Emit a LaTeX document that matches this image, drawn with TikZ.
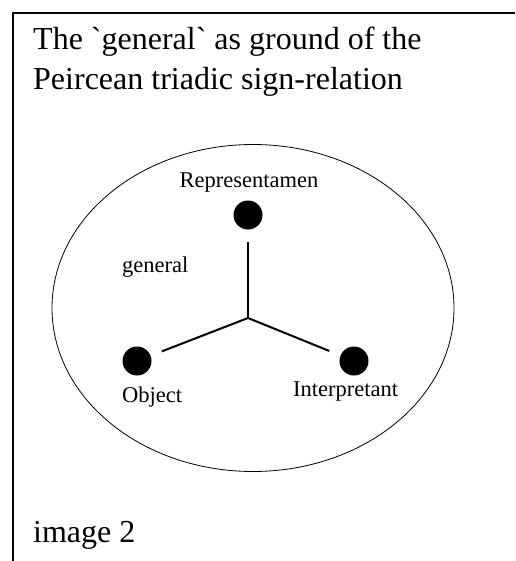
\documentclass[tikz,border=0pt]{standalone}
\usepackage{fontspec}
\setmainfont{Liberation Serif}[Ligatures=TeXOff]
\usetikzlibrary{positioning, shapes.geometric}
\tikzset{
  dot/.style={
    circle, fill=black, draw=none,
    minimum size=29pt, inner sep=0pt
  },
  lbl/.style={
    font=\fontsize{22.5}{27}\selectfont,
    inner sep=0pt, anchor=base west
  },
  big/.style={
    font=\fontsize{32}{40}\selectfont,
    inner sep=0pt, anchor=base west
  },
  tie/.style={line width=2pt, shorten >=12pt},
}

\begin{document}
\begin{tikzpicture}[x=1pt, y=-1pt]
        \useasboundingbox (0,0) rectangle (515,561);
        % frame of the text box
        \draw[line width=2pt] (13,561) -- (13,13) -- (515,13);
        \node[big] (head1) at (33,50) {The `general` as ground of the};
        \node[big] (head2) at (33,90) {Peircean triadic sign-relation};
        \node[big] (foot) at (33,542) {image 2};
        % the ground
        \node[draw, ellipse, line width=0.8pt, minimum width=402pt,
              minimum height=327pt, inner sep=0pt] (ground) at (253,308) {};
        \node[lbl] (gen) at (122,272) {general};
        % the three correlates
        \node[dot] (rep) at (248,215) {};
        \node[dot] (obj) at (137,361) {};
        \node[dot] (int) at (354,361) {};
        \node[lbl, anchor=base] (replbl) at (249,188) {Representamen};
        \node[lbl] (objlbl) at (122,402) {Object};
        \node[lbl] (intlbl) at (293,396) {Interpretant};
        \coordinate (hub) at (248,318);
        \draw[tie] (hub) -- (rep);
        \draw[tie] (hub) -- (obj);
        \draw[tie] (hub) -- (int);
\end{tikzpicture}
\end{document}
